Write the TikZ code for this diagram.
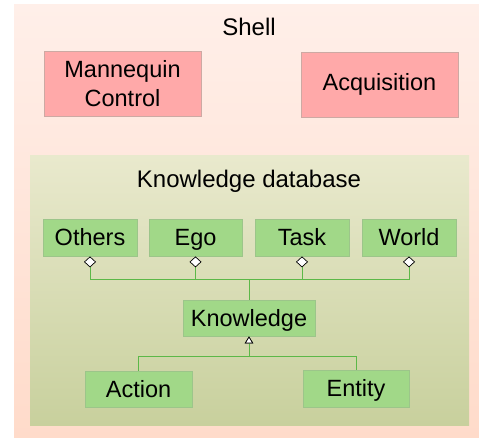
\documentclass[tikz,border=0pt]{standalone}
\usepackage{fontspec}
\setmainfont{Liberation Sans}
\usetikzlibrary{arrows.meta}
\definecolor{shelltop}{HTML}{FFEFE9}
\definecolor{shellbot}{HTML}{FFDBCA}
\definecolor{kdbtop}{HTML}{E9E9CD}
\definecolor{kdbbot}{HTML}{C8D09D}
\definecolor{pinkfill}{HTML}{FFA9A9}
\definecolor{pinkdraw}{HTML}{CDA9A3}
\definecolor{grfill}{HTML}{A1D888}
\definecolor{grdraw}{HTML}{9CC58A}
\definecolor{conn}{HTML}{5CB848}
\tikzset{
  pinkbox/.style={draw=pinkdraw, fill=pinkfill, line width=0.8pt, inner sep=0pt, align=center, font=\fontsize{23.5}{28.5}\selectfont},
  grbox/.style={draw=grdraw, fill=grfill, line width=0.8pt, inner sep=0pt, text height=21.8pt, text depth=5pt, font=\fontsize{23.5}{27}\selectfont},
  title/.style={inner sep=0pt, font=\fontsize{24}{28}\selectfont},
  agg/.style={draw=conn, line width=1pt, {Diamond[length=11pt,width=12pt,color=black,fill=white,line width=0.7pt]}-},
  gen/.style={draw=conn, line width=1pt, -{Triangle[length=7pt,width=8.5pt,color=black,fill=white,line width=0.7pt]}},
}
\begin{document}
\begin{tikzpicture}[x=1pt,y=-1pt]
\useasboundingbox (0,0) rectangle (479,438);
\shade[top color=shelltop, bottom color=shellbot] (14,5) rectangle (479,438);
\shade[top color=kdbtop, bottom color=kdbbot] (30,156) rectangle (469,425);
\node[title] (shell) at (249,27) {Shell};
\node[title] (kdb) at (249,181) {Knowledge database};
\node[pinkbox, minimum width=157pt, minimum height=65pt] (mann) at (122.5,83.5) {Mannequin\\Control};
\node[pinkbox, minimum width=157pt, minimum height=65pt] (acq) at (379.5,84.5) {Acquisition};
\node[grbox, minimum width=94pt, minimum height=37pt] (others) at (90,237.5) {Others};
\node[grbox, minimum width=93pt, minimum height=37pt] (ego) at (195.5,237.5) {Ego};
\node[grbox, minimum width=94pt, minimum height=37pt] (task) at (302,237.5) {Task};
\node[grbox, minimum width=94pt, minimum height=37pt] (world) at (409,237.5) {World};
\node[grbox, minimum width=132pt, minimum height=36pt] (know) at (249,318) {Knowledge};
\node[grbox, minimum width=107pt, minimum height=36pt] (action) at (138.5,389) {Action};
\node[grbox, minimum width=106pt, minimum height=37pt] (entity) at (356,388.5) {Entity};
\coordinate (jtop) at (249,280);
\coordinate (jbot) at (249,356);
\draw[agg] (others.south) |- (jtop) -- (know.north);
\draw[agg] (ego.south) |- (jtop);
\draw[agg] (task.south) |- (jtop);
\draw[agg] (world.south) |- (jtop);
\draw[gen] (action.north) |- (jbot) -- (know.south);
\draw[gen] (entity.north) |- (jbot) -- (know.south);
\end{tikzpicture}
\end{document}
